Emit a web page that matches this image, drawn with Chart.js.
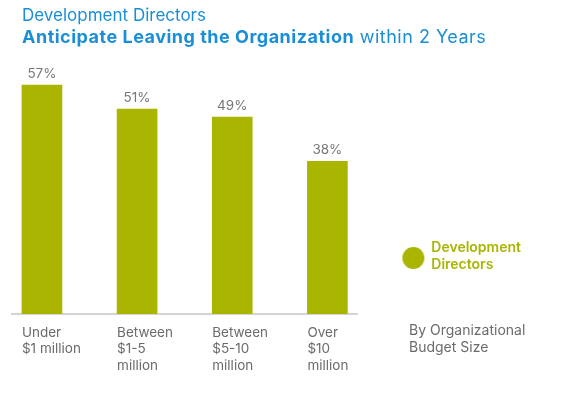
<!DOCTYPE html>
<html>
<head>
<meta charset="utf-8">
<script src="https://cdn.jsdelivr.net/npm/chart.js@4.4.0/dist/chart.umd.min.js"></script>
<style>
  body { margin: 0; background: #fff; font-family: Inter, sans-serif; }
  #wrap { position: relative; width: 583px; height: 398px; }
  #chart { position: absolute; left: 0; top: 0; }
  .t1, .t2 { position: absolute; left: 22px; color: #1b8fd6; white-space: nowrap; }
  .t1 { top: 6px; font-size: 17px; line-height: 19px; }
  .t2 { top: 26px; font-size: 18px; line-height: 21px; letter-spacing: 0.5px; }
  .t2 b { font-weight: 700; }
  .side { position: absolute; left: 409px; top: 321px; color: #6b6b6b; font-size: 14px; line-height: 17px; }
</style>
</head>
<body>
<div id="wrap">
  <canvas id="chart" width="583" height="398"></canvas>
  <div class="t1">Development Directors</div>
  <div class="t2"><b>Anticipate Leaving the Organization</b> within 2 Years</div>
  <div class="side">By Organizational<br>Budget Size</div>
</div>
<script>
// Data
const categories = [
  ["Under", "$1 million"],
  ["Between", "$1-5", "million"],
  ["Between", "$5-10", "million"],
  ["Over", "$10", "million"],
];
const values = [57, 51, 49, 38];
const seriesName = ["Development", "Directors"];

const green = "#a9b500";

// legend dot, drawn lower so it sits between the two text lines
const dot = document.createElement("canvas");
dot.width = 24;
dot.height = 44;
const dctx = dot.getContext("2d");
dctx.fillStyle = green;
dctx.beginPath();
dctx.arc(12, 32, 11, 0, Math.PI * 2);
dctx.fill();

// percent labels over the bars
const valueLabels = {
  id: "valueLabels",
  afterDatasetsDraw(chart) {
    const ctx = chart.ctx;
    const meta = chart.getDatasetMeta(0);
    ctx.save();
    ctx.fillStyle = "#777";
    ctx.font = "13.5px Inter";
    ctx.textAlign = "center";
    ctx.textBaseline = "middle";
    meta.data.forEach((bar, i) => {
      ctx.fillText(values[i] + "%", bar.x, bar.y - 11);
    });
    ctx.restore();
  },
};

const ctx = document.getElementById("chart").getContext("2d");
const chart = new Chart(ctx, {
  type: "bar",
  data: {
    datasets: [
      {
        label: seriesName.join(" "),
        data: values.map((v, i) => ({ x: i, y: v })),
        backgroundColor: green,
        barThickness: 40,
        clip: false,
      },
    ],
  },
  options: {
    responsive: false,
    animation: false,
    layout: { padding: { top: 57, left: 12, right: 52, bottom: 13 } },
    scales: {
      x: {
        type: "linear",
        offset: false,
        min: -0.3147,
        max: 3.3147,
        grid: { display: false, drawTicks: false },
        border: { display: true, color: "#d4d4d4", width: 2 },
        afterBuildTicks: (scale) => {
          scale.ticks = categories.map((c, i) => ({ value: i - 0.21 }));
        },
        ticks: {
          autoSkip: false,
          maxRotation: 0,
          align: "start",
          padding: 11,
          color: "#6b6b6b",
          font: { family: "Inter", size: 13.5, lineHeight: 1.22 },
          callback: (value, index) => categories[index],
        },
      },
      y: {
        display: false,
        min: 0,
        max: 64,
      },
    },
    plugins: {
      legend: {
        position: "right",
        align: "start",
        fullSize: false,
        title: { display: true, text: "", padding: { top: 124.6, bottom: 0 } },
        labels: {
          usePointStyle: true,
          pointStyleWidth: 22,
          padding: 45,
          font: { family: "Inter", size: 14, weight: "600", lineHeight: 1.2 },
          generateLabels: () => [
            {
              text: seriesName,
              fillStyle: green,
              strokeStyle: green,
              lineWidth: 0,
              pointStyle: dot,
              fontColor: green,
              datasetIndex: 0,
            },
          ],
        },
      },
      tooltip: { enabled: false },
    },
  },
  plugins: [valueLabels],
});
</script>
</body>
</html>
